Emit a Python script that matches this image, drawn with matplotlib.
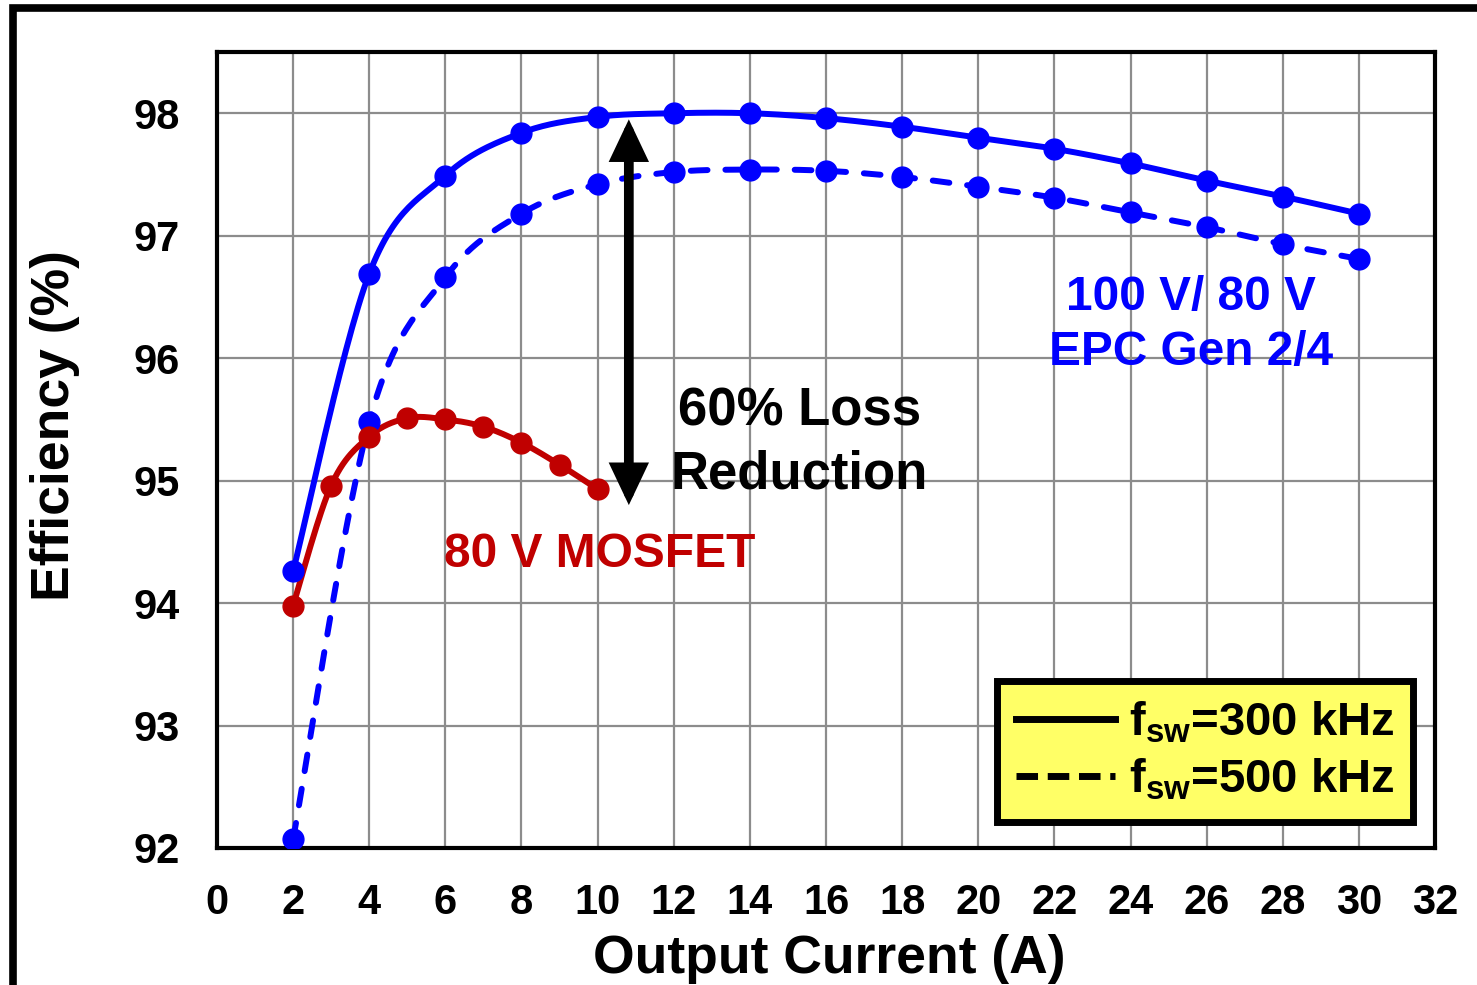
import numpy as np
import matplotlib
matplotlib.use("Agg")
import matplotlib.pyplot as plt
from matplotlib.lines import Line2D
from matplotlib.patches import Rectangle

plt.rcParams['font.family'] = ['Liberation Sans', 'DejaVu Sans']
plt.rcParams['font.weight'] = 'bold'
plt.rcParams['mathtext.fontset'] = 'custom'
plt.rcParams['mathtext.bf'] = 'Liberation Sans:bold'
plt.rcParams['mathtext.rm'] = 'Liberation Sans:bold'

# ---- data ----
x_gan = [2, 4, 6, 8, 10, 12, 14, 16, 18, 20, 22, 24, 26, 28, 30]
eff_300k = [94.26, 96.69, 97.49, 97.84, 97.97, 98.00, 98.00, 97.96, 97.89,
            97.80, 97.71, 97.59, 97.45, 97.32, 97.18]
eff_500k = [92.07, 95.48, 96.66, 97.18, 97.42, 97.52, 97.54, 97.53, 97.48,
            97.40, 97.31, 97.19, 97.07, 96.93, 96.81]
x_mos = [2, 3, 4, 5, 6, 7, 8, 9, 10]
eff_mos = [93.98, 94.96, 95.36, 95.51, 95.50, 95.44, 95.31, 95.13, 94.93]
x_ticks = list(range(0, 33, 2))
y_ticks = [92, 93, 94, 95, 96, 97, 98]

BLUE = '#0000FF'
RED = '#C00000'


def smooth(xs, ys, n=30):
    """Excel-like smoothed line (Catmull-Rom via cubic Bezier)."""
    P = np.column_stack([xs, ys]).astype(float)
    out = [P[0]]
    for i in range(len(P) - 1):
        p0 = P[i - 1] if i > 0 else P[i]
        p1, p2 = P[i], P[i + 1]
        p3 = P[i + 2] if i + 2 < len(P) else P[i + 1]
        c1 = p1 + (p2 - p0) / 6.0
        c2 = p2 - (p3 - p1) / 6.0
        t = np.linspace(0, 1, n)[1:, None]
        seg = ((1 - t) ** 3) * p1 + 3 * ((1 - t) ** 2) * t * c1 + 3 * (1 - t) * t ** 2 * c2 + t ** 3 * p2
        out.extend(seg)
    out = np.array(out)
    return out[:, 0], out[:, 1]


fig = plt.figure(figsize=(14.77, 9.85), dpi=100)
ax = fig.add_axes([0.1469, 0.1391, 0.8247, 0.8081])

# figure frame
fig.patches.append(Rectangle((0.0085, -0.02), 1.05, 1.0115, transform=fig.transFigure,
                             fill=False, lw=5.5, ec='black', zorder=0))

lw = 4.3
ms = 15
sx, sy = smooth(x_gan, eff_500k)
ax.plot(sx, sy, color=BLUE, lw=lw, dashes=(2.8, 3.0), dash_capstyle='round', zorder=3)
ax.plot(x_gan, eff_500k, 'o', color=BLUE, ms=ms, zorder=4)
sx, sy = smooth(x_gan, eff_300k)
ax.plot(sx, sy, color=BLUE, lw=lw, zorder=3)
ax.plot(x_gan, eff_300k, 'o', color=BLUE, ms=ms, zorder=4)
sx, sy = smooth(x_mos, eff_mos)
ax.plot(sx, sy, color=RED, lw=lw, zorder=3)
ax.plot(x_mos, eff_mos, 'o', color=RED, ms=ms, zorder=4)

ax.set_xlim(0, 32)
ax.set_ylim(92, 98.5)
ax.set_xticks(x_ticks)
ax.set_yticks(y_ticks)
ax.grid(True, color='#8c8c8c', lw=1.6)
ax.set_axisbelow(True)
ax.tick_params(length=0, labelsize=30)
ax.tick_params(axis='x', pad=25)
ax.tick_params(axis='y', pad=27)
for s in ax.spines.values():
    s.set_linewidth(3)
    s.set_color('black')

ax.set_xlabel('Output Current (A)', fontsize=38.5, fontweight='bold')
ax.xaxis.set_label_coords(0.503, -0.140)
ax.xaxis.label.set_va('center')
ax.set_ylabel('Efficiency (%)', fontsize=38.5, fontweight='bold')
ax.yaxis.set_label_coords(-0.133, 0.531)
ax.yaxis.label.set_va('center')

# arrow
ax.annotate('', xy=(10.82, 97.95), xytext=(10.82, 94.80),
            arrowprops=dict(arrowstyle='<|-|>,head_length=1.9,head_width=0.9',
                            lw=7, color='black', shrinkA=0, shrinkB=0,
                            joinstyle='miter'), zorder=5)

ax.text(15.3, 95.31, '60% Loss\nReduction', fontsize=38, fontweight='bold',
        ha='center', va='center', linespacing=1.33, zorder=6)
ax.text(10.05, 94.40, '80 V MOSFET', fontsize=34.5, fontweight='bold', color=RED,
        ha='center', va='center', zorder=6)
ax.text(25.6, 96.27, '100 V/ 80 V\nEPC Gen 2/4', fontsize=34.4, fontweight='bold', color=BLUE,
        ha='center', va='center', linespacing=1.27, zorder=6)

handles = [Line2D([], [], color='black', lw=5),
           Line2D([], [], color='black', lw=5, dashes=(3.1, 1.4))]
labels = [r'$\mathbf{f_{sw}}$=300 kHz', r'$\mathbf{f_{sw}}$=500 kHz']
leg = ax.legend(handles, labels, loc='lower right', bbox_to_anchor=(0.982, 0.033),
                fontsize=34, frameon=True, fancybox=False, handlelength=2.1,
                handletextpad=0.3, borderpad=0.4, labelspacing=0.26, borderaxespad=0)
leg.get_frame().set_facecolor('#FFFF66')
leg.get_frame().set_edgecolor('black')
leg.get_frame().set_linewidth(5)
leg.get_frame().set_alpha(1)
leg.set_zorder(10)

fig.savefig('out.png', dpi=100)
